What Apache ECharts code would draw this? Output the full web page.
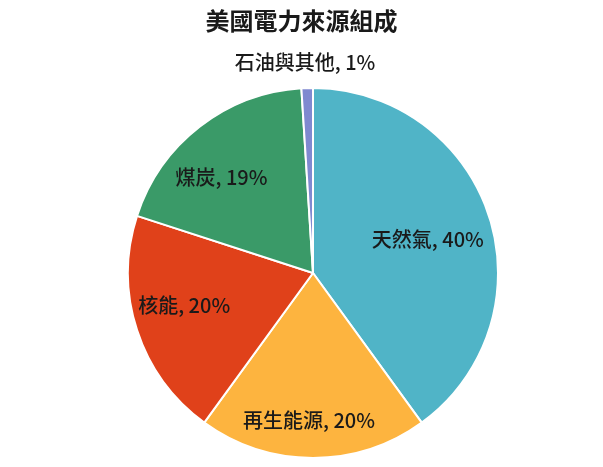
<!DOCTYPE html>
<html>
<head>
<meta charset="utf-8">
<title>美國電力來源組成</title>
<script src="https://cdn.jsdelivr.net/npm/echarts@6/dist/echarts.min.js"></script>
<style>
    html, body { margin: 0; padding: 0; background: #ffffff; }
    #chart { width: 603px; height: 467px; }
</style>
</head>
<body>
<div id="chart"></div>
<script>
var categories = ['天然氣', '再生能源', '核能', '煤炭', '石油與其他'];
var shares = [40, 20, 20, 19, 1];
var sliceColors = ['#50b4c7', '#fdb43f', '#e0411a', '#3a9a68', '#7f89d0'];

// nudges so labels sit where the original placed them
var labelShift = [[24, -4], [-4, 52], [-38, 3], [-33, -20], [-5, -115]];

(function () {
    'use strict';

    var chart = echarts.init(document.getElementById('chart'), null, { renderer: 'canvas' });
    var fontFamily = '"Noto Sans CJK TC", "Noto Sans", sans-serif';

    var pieData = categories.map(function (name, i) {
        return {
            name: name,
            value: shares[i],
            itemStyle: { color: sliceColors[i] }
        };
    });

    chart.setOption({
        animation: false,
        title: {
            text: '美國電力來源組成',
            left: 'center',
            top: 4,
            textStyle: {
                fontFamily: fontFamily,
                fontSize: 24,
                fontWeight: 'bold',
                color: '#1a1a1a'
            }
        },
        series: [{
            type: 'pie',
            center: [313, 273],
            radius: 185,
            startAngle: 90,
            clockwise: true,
            data: pieData,
            itemStyle: {
                borderColor: '#ffffff',
                borderWidth: 2
            },
            label: {
                show: true,
                position: 'inside',
                formatter: '{b}, {c}%',
                fontFamily: fontFamily,
                fontSize: 20,
                fontWeight: 500,
                color: '#1a1a1a'
            },
            labelLine: { show: false },
            labelLayout: function (params) {
                var s = labelShift[params.dataIndex];
                return { dx: s[0], dy: s[1] };
            },
            emphasis: { disabled: true }
        }]
    });
})();
</script>
</body>
</html>
